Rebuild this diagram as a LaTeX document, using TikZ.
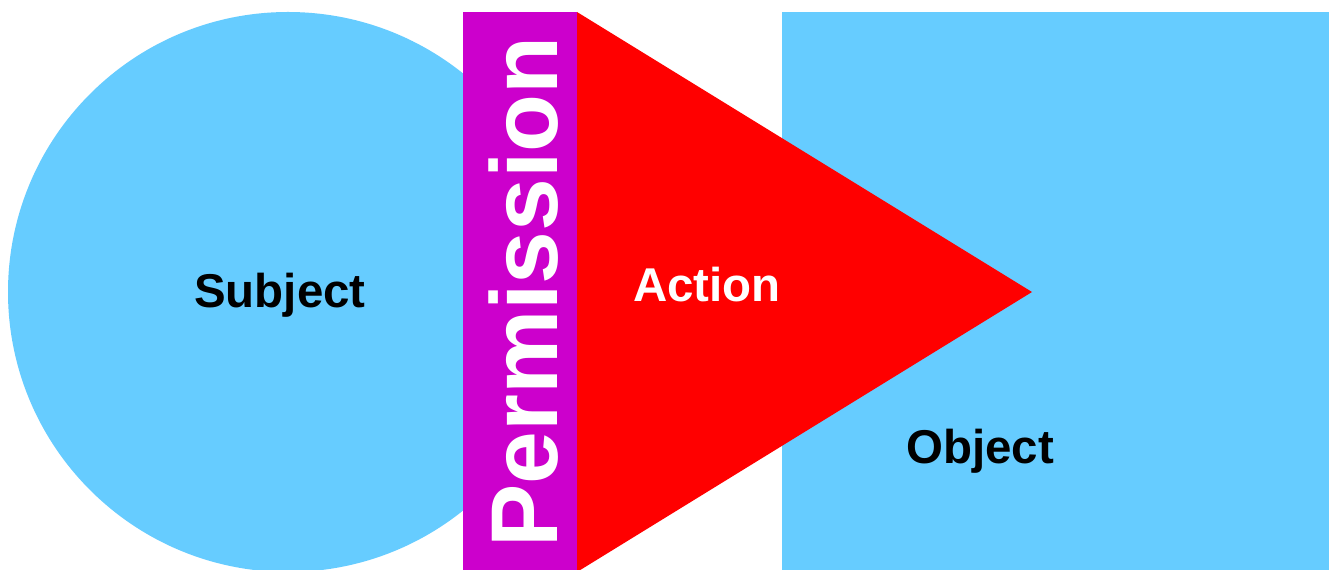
\documentclass[tikz,border=0pt]{standalone}
\usepackage{fontspec}
\setmainfont{Liberation Sans}
\definecolor{skyblue}{HTML}{66CCFF}
\definecolor{permpurple}{HTML}{CC00CC}

\begin{document}
\begin{tikzpicture}[x=0.02cm, y=-0.02cm,
    nametext/.style={font=\fontsize{27}{30}\selectfont\bfseries, anchor=base, inner sep=0pt}]
\useasboundingbox[fill=white] (0,0) rectangle (1332,570);

\fill[skyblue] (288,292) circle (280);
\fill[skyblue] (782,12) rectangle (1329,570);
\fill[permpurple] (463,12) rectangle (577,570);
\fill[red] (577,12) -- (1032,292) -- (577,572) -- cycle;

\node[nametext] (subject) at (280,308) {Subject};
\node[nametext, text=white] (action) at (707,302) {Action};
\node[nametext] (object) at (980,464) {Object};
\node[nametext, text=white, rotate=90, font=\fontsize{54}{60}\selectfont\bfseries] (permission) at (557,292) {Permission};

\end{tikzpicture}
\end{document}
